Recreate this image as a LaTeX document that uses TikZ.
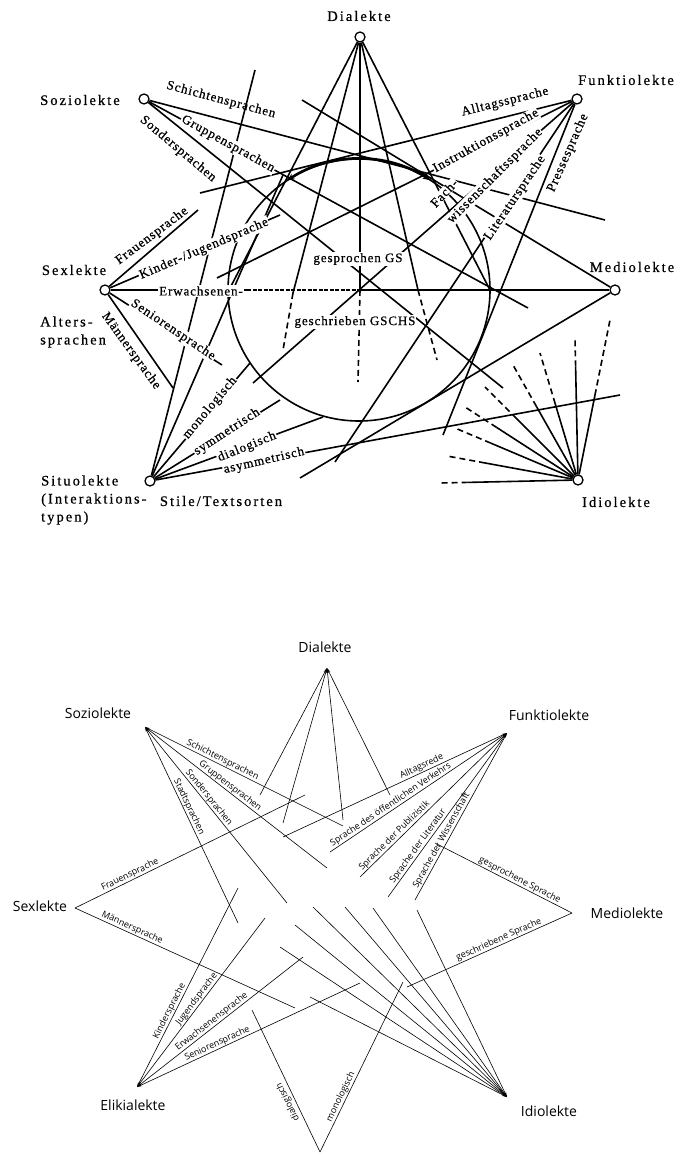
\documentclass[tikz,border=0pt]{standalone}
\usepackage{fontspec}
\setmainfont{Liberation Serif}
\newfontfamily\serifsp[LetterSpace=14,FakeBold=0.6]{Liberation Serif}
\newfontfamily\seriflb[LetterSpace=7,FakeBold=0.6]{Liberation Serif}
\newfontfamily\sansf{Open Sans}
\usetikzlibrary{arrows.meta,calc}
\begin{document}
\begin{tikzpicture}[x=1pt,y=-1pt,
  uline/.style={line width=1.6pt},
  udash/.style={line width=1.6pt, dash pattern=on 6pt off 4pt},
  udense/.style={line width=1.6pt, dash pattern=on 4pt off 1.5pt},
  unode/.style={circle, draw, fill=white, line width=1.3pt, minimum size=10pt, inner sep=0pt},
  utxt/.style={font=\fontsize{14.5}{18}\selectfont\serifsp, inner sep=0pt},
  ulab/.style={font=\fontsize{13}{15}\selectfont\seriflb, inner sep=1pt},
  wlab/.style={ulab, fill=white},
  lline/.style={line width=0.6pt},
  ltip/.style={lline, {Stealth[length=5pt,width=2.4pt]}-},
  ltxt/.style={font=\fontsize{14}{16}\selectfont\sansf, inner sep=0pt},
  llab/.style={font=\fontsize{9}{10}\selectfont\sansf, inner sep=0.6pt},
]
\useasboundingbox (0,0) rectangle (689,1155);
\fill[white] (0,0) rectangle (689,1155);

% ================= UPPER DIAGRAM =================
\node[unode] (dia) at (360,37) {};
\node[unode] (soz) at (144,99) {};
\node[unode] (fun) at (577,99) {};
\node[unode] (sex) at (105,290) {};
\node[unode] (med) at (615,290) {};
\node[unode] (sit) at (150,481) {};
\node[unode] (idi) at (578,480) {};

% big circle and thick top arc
\coordinate (cc) at (359,290);
\draw[uline] (cc) circle[radius=131pt];
\draw[line width=2.6pt, {Stealth[length=8pt,width=6pt]}-{Stealth[length=8pt,width=6pt]}]
  (cc) ++(123.5:131pt) arc[start angle=123.5, end angle=56.8, radius=131pt];

% Dialekte
\coordinate (d1) at (229,290);
\coordinate (d2) at (293,293); \coordinate (d2e) at (283,350);
\coordinate (d3) at (360,290); \coordinate (d3e) at (358,382);
\coordinate (d4) at (418,290); \coordinate (d4e) at (437,360);
\coordinate (d5) at (490,290);
\draw[uline] (dia) -- (d1);
\draw[uline] (dia) -- (d2); \draw[udash] (d2) -- (d2e);
\draw[uline] (dia) -- (d3); \draw[udash] (d3) -- (d3e);
\draw[uline] (dia) -- (d4); \draw[udash] (d4) -- (d4e);
\draw[uline] (dia) -- (d5);

% Soziolekte
\coordinate (z1) at (605,220);
\coordinate (z2) at (528,308);
\coordinate (z3) at (503,388);
\draw[uline] (soz) -- (z1);
\draw[uline] (soz) -- (z2);
\draw[uline] (soz) -- (z3);

% Funktiolekte
\coordinate (f1) at (200,193);
\coordinate (f2) at (217,278);
\coordinate (f3) at (253,383);
\coordinate (f4) at (335,462);
\coordinate (f5) at (443,435);
\foreach \e in {f1,f2,f3,f4,f5} \draw[uline] (fun) -- (\e);

% Sexlekte
\coordinate (x1) at (198,210);
\coordinate (x2) at (280,215);
\coordinate (x3) at (247,290);
\coordinate (x4) at (222,365);
\coordinate (x5) at (173,388);
\draw[uline] (sex) -- (x1);
\draw[uline] (sex) -- (x2);
\draw[uline] (sex) -- (x3);
\draw[udense] (x3) -- (d3);
\draw[uline] (d3) -- (med);
\draw[uline] (sex) -- (x4);
\draw[uline] (sex) -- (x5);

% Mediolekte
\coordinate (m1) at (302,100);
\coordinate (m2) at (300,478);
\draw[uline] (med) -- (m1);
\draw[uline] (med) -- (m2);

% Situolekte
\coordinate (s1) at (255,70);
\coordinate (s2) at (283,175);
\coordinate (s3) at (250,363);
\coordinate (s4) at (280,400);
\coordinate (s5) at (323,417);
\coordinate (s6) at (620,395);
\foreach \e in {s1,s2,s3,s4,s5,s6} \draw[uline] (sit) -- (\e);

% Idiolekte (dashed free ends)
\foreach \ex/\ey/\f [count=\i] in {610/320/0.53, 575/338/0.8, 540/353/0.6, 513/365/0.64,
   485/387/0.66, 465/407/0.72, 455/428/0.71, 447/456/0.71, 440/483/0.8}{
  \coordinate (i\i) at (\ex,\ey);
  \coordinate (ih\i) at ($(idi)!\f!(i\i)$);
  \draw[uline] (idi) -- (ih\i);
  \draw[udash] (ih\i) -- (i\i);
}

% upper labels
\node[ulab, rotate=-15] (lSch) at (221,100) {Schichtensprachen};
\node[wlab, rotate=-29] (lGru) at (228,144) {Gruppensprachen};
\node[ulab, rotate=-40] (lSon) at (178,149) {Sondersprachen};
\node[ulab, rotate=37] (lFra) at (152,236) {Frauensprache};
\node[wlab, rotate=23] (lKin) at (204,249) {Kinder-/Jugendsprache};
\node[wlab] (lErw) at (201,291) {Erwachsenen-};
\node[wlab, rotate=-34] (lSen) at (173,330) {Seniorensprache};
\node[ulab, rotate=-54] (lMae) at (131,351) {Männersprache};
\node[wlab, rotate=50] (lMon) at (210,408) {monologisch};
\node[wlab, rotate=33] (lSym) at (227,432) {symmetrisch};
\node[wlab, rotate=22] (lDlg) at (247,447) {dialogisch};
\node[wlab, rotate=13] (lAsy) at (264,461) {asymmetrisch};
\node[ulab, rotate=14] (lAll) at (505,102) {Alltagssprache};
\node[wlab, rotate=29, inner sep=0.5pt] (lIns) at (486,141) {Instruktionssprache};
\node[wlab, rotate=47, inner sep=0.5pt] (lFac) at (444,193) {Fach-};
\node[wlab, rotate=45, inner sep=0.5pt] (lWis) at (495,176) {wissenschaftssprache};
\node[wlab, rotate=56, inner sep=0.5pt] (lLit) at (515,198) {Literatursprache};
\node[ulab, rotate=66] (lPre) at (568,153) {Pressesprache};
\node[wlab] (lGS) at (358,259) {gesprochen GS};
\node[wlab] (lGSCHS) at (355,322) {geschrieben GSCHS};

% upper node labels
\node[utxt] (tDia) at (359,16) {Dialekte};
\node[utxt] (tSoz) at (80,100) {Soziolekte};
\node[utxt] (tFun) at (626,80) {Funktiolekte};
\node[utxt] (tSex) at (74,270) {Sexlekte};
\node[utxt, align=left, anchor=west] (tAlt) at (40,332) {Alters-\\sprachen};
\node[utxt] (tMed) at (632,267) {Mediolekte};
\node[utxt, align=left, anchor=west] (tSit) at (41,500) {Situolekte\\(Interaktions-\\typen)};
\node[utxt] (tSti) at (221,501) {Stile/Textsorten};
\node[utxt] (tIdi) at (616,502) {Idiolekte};

% ================= LOWER DIAGRAM =================
\coordinate (LA) at (327,668);
\coordinate (LB) at (145,727);
\coordinate (LC) at (507,733);
\coordinate (LD) at (75,908);
\coordinate (LE) at (572,913);
\coordinate (LF) at (137,1087);
\coordinate (LG) at (320,1152);
\coordinate (LH) at (507,1097);

% Dialekte apex
\draw[ltip] (LA) -- (260,795);
\draw[ltip] (LA) -- (283,823);
\draw[ltip] (LA) -- (343,820);
\draw[ltip] (LA) -- (390,795);

% Soziolekte
\draw[ltip] (LB) -- (343,826) node[pos=0.38, sloped, above, llab] (nSch) {Schichtensprachen};
\draw[ltip] (LB) -- (327,868) node[pos=0.45, sloped, above, llab] (nGru) {Gruppensprachen};
\draw[ltip] (LB) -- (287,903) node[pos=0.42, sloped, above, llab] (nSon) {Sondersprachen};
\draw[ltip] (LB) -- (238,923) node[pos=0.42, sloped, above, llab] (nSta) {Stadtsprachen};

% Funktiolekte
\draw[ltip] (LC) -- (283,837) node[pos=0.37, sloped, above, llab] (nAll) {Alltagsrede};
\draw[ltip] (LC) -- (330,852) node[pos=0.64, sloped, above, llab] (nVer) {Sprache des öffentlichen Verkehrs};
\draw[ltip] (LC) -- (360,877) node[pos=0.74, sloped, above, llab] (nPub) {Sprache der Publizistik};
\draw[ltip] (LC) -- (388,897) node[pos=0.71, sloped, above, llab] (nLit) {Sprache der Literatur};
\draw[ltip] (LC) -- (415,900) node[pos=0.66, sloped, above, llab] (nWis) {Sprache der Wissenschaft};

% Sexlekte
\draw[lline] (LD) -- (305,795) node[pos=0.25, sloped, above, llab] (nFra) {Frauensprache};
\draw[lline] (LD) -- (295,1008) node[pos=0.25, sloped, above, llab] (nMae) {Männersprache};

% Mediolekte
\draw[lline] (LE) -- (435,843) node[pos=0.40, sloped, above, llab] (nGes) {gesprochene Sprache};
\draw[lline] (LE) -- (407,987) node[pos=0.43, sloped, above, llab] (nGeb) {geschriebene Sprache};

% Elikialekte
\draw[ltip] (LF) -- (238,888) node[pos=0.37, sloped, above, llab] (nKin) {Kindersprache};
\draw[ltip] (LF) -- (265,918) node[pos=0.50, sloped, above, llab] (nJug) {Jugendsprache};
\draw[ltip] (LF) -- (303,957) node[pos=0.47, sloped, above, llab] (nErw) {Erwachsenensprache};
\draw[ltip] (LF) -- (360,983) node[pos=0.37, sloped, above, llab] (nSen) {Seniorensprache};

% bottom apex
\draw[lline] (LG) -- (252,1010);
\draw[lline] (LG) -- (403,982) node[pos=0.31, sloped, above, llab] (nMon) {monologisch};
\node[llab, rotate=116] (nDlg) at (288,1102) {dialogisch};

% Idiolekte
\foreach \p in {(417,910),(373,908),(345,907),(313,907),(295,925),(280,947),(310,997)}
  \draw[ltip] (LH) -- \p;

% lower node labels
\node[ltxt] (uDia) at (325,647) {Dialekte};
\node[ltxt] (uSoz) at (98,713) {Soziolekte};
\node[ltxt] (uFun) at (549,715) {Funktiolekte};
\node[ltxt] (uSex) at (40,906) {Sexlekte};
\node[ltxt] (uMed) at (627,913) {Mediolekte};
\node[ltxt] (uEli) at (133,1105) {Elikialekte};
\node[ltxt] (uIdi) at (549,1111) {Idiolekte};
\end{tikzpicture}
\end{document}
